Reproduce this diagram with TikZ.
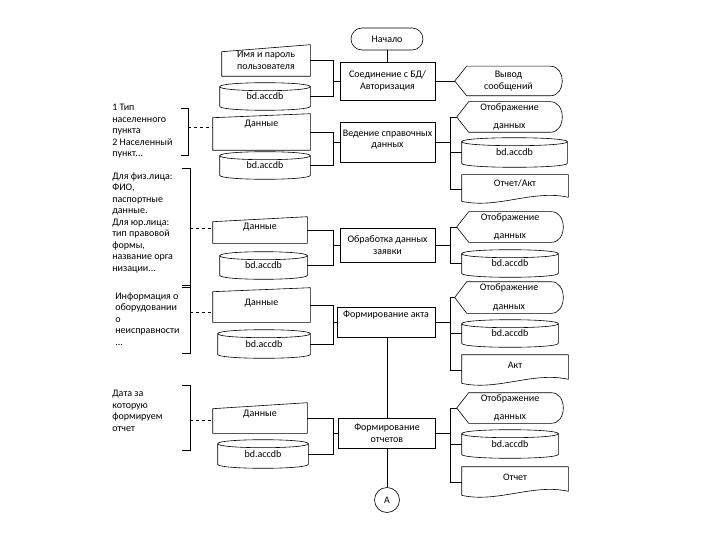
\documentclass[tikz,border=0pt]{standalone}
\usepackage{fontspec}
\setmainfont{Carlito}
\begin{document}
\begin{tikzpicture}[x=1pt,y=-1pt,line width=0.6pt,
  base/.style={inner sep=1pt,font=\fontsize{10}{11.5}\selectfont,align=center},
  term/.style={base,draw,rounded corners=11pt,minimum width=72pt,minimum height=22pt},
  proc/.style={base,draw,minimum width=95pt},
  shp/.style={base},
  note/.style={inner sep=0pt,anchor=north west,align=left,font=\fontsize{10}{11.5}\selectfont},
  conA/.style={base,draw,circle,minimum size=25pt,inner sep=0pt},
  brk/.style={line width=0.6pt},
  dconn/.style={dashed}]
\useasboundingbox (0,0) rectangle (720,540);
\fill[white] (0,0) rectangle (720,540);

% main column
\node[term] (start) at (387,39) {Начало};
\node[proc,minimum height=38pt] (p1) at (387.5,81) {Соединение с БД/\\Авторизация};
\node[proc,minimum height=40pt,text depth=6pt] (p2) at (387.5,142) {Ведение справочных\\данных};
\node[proc,minimum height=34pt] (p3) at (387.5,245) {Обработка данных\\заявки};
\node[proc,minimum width=98pt,minimum height=30pt,text depth=16pt] (p4) at (386,322) {Формирование акта};
\node[proc,minimum width=97pt,minimum height=30pt] (p5) at (387,433) {Формирование\\отчетов};
\node[conA] (A) at (387,500) {А};

% left manual inputs
\node[shp,minimum width=88pt,minimum height=31pt] (m1) at (266,60.5) {Имя и пароль\\пользователя};
\node[shp,minimum width=97pt,minimum height=36pt,text depth=18pt] (m2) at (261.5,132) {Данные};
\node[shp,minimum width=94pt,minimum height=26pt,text depth=8pt] (m3) at (260,230) {Данные};
\node[shp,minimum width=97pt,minimum height=34pt,text depth=6pt] (m4) at (261.5,305) {Данные};
\node[shp,minimum width=94pt,minimum height=30pt,text depth=10pt] (m5) at (260,418) {Данные};

% left cylinders
\node[shp,minimum width=90pt,minimum height=27pt] (c1) at (265,96.5) {bd.accdb};
\node[shp,minimum width=90pt,minimum height=27pt] (c2) at (265,165.5) {bd.accdb};
\node[shp,minimum width=87pt,minimum height=27pt] (c3) at (263.5,265.5) {bd.accdb};
\node[shp,minimum width=92pt,minimum height=28pt] (c4) at (264,344) {bd.accdb};
\node[shp,minimum width=90pt,minimum height=28pt] (c5) at (263,454) {bd.accdb};

% right displays
\node[shp,minimum width=107pt,minimum height=29pt] (d1) at (508.5,81) {Вывод\\сообщений};
\node[shp,minimum width=105pt,minimum height=30pt] (d2) at (509.5,117) {Отображение\\[7pt]данных};
\node[shp,minimum width=106pt,minimum height=30pt] (d3) at (510,227) {Отображение\\[7pt]данных};
\node[shp,minimum width=108pt,minimum height=31pt] (d4) at (509,297.5) {Отображение\\[7pt]данных};
\node[shp,minimum width=106pt,minimum height=30pt] (d5) at (510,408) {Отображение\\[7pt]данных};

% right cylinders
\node[shp,minimum width=105pt,minimum height=29pt] (r2c) at (514.5,152.5) {bd.accdb};
\node[shp,minimum width=96pt,minimum height=27pt] (r3c) at (510,263.5) {bd.accdb};
\node[shp,minimum width=96pt,minimum height=27pt] (r4c) at (510,333.5) {bd.accdb};
\node[shp,minimum width=96pt,minimum height=28pt] (r5c) at (510,444) {bd.accdb};

% right documents
\node[shp,minimum width=106pt,minimum height=28pt,text depth=12pt] (r2d) at (515,189) {Отчет/Акт};
\node[shp,minimum width=106pt,minimum height=30pt,text depth=10pt] (r4d) at (515,370) {Акт};
\node[shp,minimum width=106pt,minimum height=30pt,text depth=10pt] (r5d) at (515,482) {Отчет};

% annotations
\node[note] (a2) at (112,104) {1 Тип\\населенного\\пункта\\2 Населенный\\пункт...};
\node[note] (a3) at (112,172) {Для физ.лица:\\ФИО,\\паспортные\\данные.\\Для юр.лица:\\тип правовой\\формы,\\название орга\\низации...};
\node[note] (a4) at (115,292) {Информация о\\оборудовании\\о\\неисправности\\...};
\node[note] (a5) at (112,390) {Дата за\\которую\\формируем\\отчет};

% shapes outlines
\foreach \n/\s in {m1/7,m2/4,m3/5,m4/4,m5/6}
  \draw ([yshift=-\s pt]\n.north west) -- (\n.north east) -- (\n.south east) -- (\n.south west) -- cycle;
\foreach \n in {c1,c2,c3,c4,c5,r2c,r3c,r4c,r5c}{
  \draw ([yshift=-4pt]\n.north west) .. controls ([yshift=1.33pt]\n.north west) and ([yshift=1.33pt]\n.north east) .. ([yshift=-4pt]\n.north east)
        .. controls ([yshift=-9.33pt]\n.north east) and ([yshift=-9.33pt]\n.north west) .. cycle;
  \draw ([yshift=-4pt]\n.north west) -- ([yshift=4pt]\n.south west)
        .. controls ([yshift=-1.33pt]\n.south west) and ([yshift=-1.33pt]\n.south east) .. ([yshift=4pt]\n.south east)
        -- ([yshift=-4pt]\n.north east);
}
\foreach \n in {d1,d2,d3,d4,d5}
  \draw (\n.west) -- ([xshift=12pt]\n.north west) -- ([xshift=-12pt]\n.north east)
        .. controls ([xshift=4pt]\n.north east) and ([xshift=4pt]\n.south east) .. ([xshift=-12pt]\n.south east)
        -- ([xshift=12pt]\n.south west) -- cycle;
\foreach \n in {r2d,r4d,r5d}
  \draw ([yshift=2pt]\n.south west) -- (\n.north west) -- (\n.north east) -- ([yshift=6pt]\n.south east)
        .. controls ([xshift=-35pt,yshift=14pt]\n.south east) and ([xshift=35pt,yshift=-6pt]\n.south west) .. ([yshift=2pt]\n.south west);

% brackets
\coordinate (k2) at (188,127);
\coordinate (k3) at (190,228);
\coordinate (k4) at (190,312);
\coordinate (k5) at (190,420);
\draw[brk] (181,108) -- (188,108) -- (188,155) -- (181,155);
\draw[brk] (182,168) -- (190,168) -- (190,287) -- (182,287);
\draw[brk] (182,285) -- (190,285) -- (190,353) -- (182,353);
\draw[brk] (182,385) -- (190,385) -- (190,450) -- (182,450);
\draw[dconn] (k2) -- (k2 -| m2.west);
\draw[dconn] (k3) -- (k3 -| m3.west);
\draw[dconn] (k4) -- (k4 -| m4.west);
\draw[dconn] (k5) -- (k5 -| m5.west);

% main vertical connectors
\draw (start.south) -- (start.south |- p1.north);
\draw (p4.south -| A) -- (p5.north -| A);
\draw (p5.south -| A) -- (A.north);

% left buses
\coordinate (lb) at (333,0);
\draw (m1.east) -- (m1.east -| lb) |- (c1.east);
\draw (p1.west) -- (p1.west -| lb);
\draw (m2.east) -- (m2.east -| lb) |- (c2.east);
\draw (p2.west) -- (p2.west -| lb);
\draw (m3.east) -- (m3.east -| lb) |- (c3.east);
\draw (p3.west) -- (p3.west -| lb);
\draw (m4.east) -- (m4.east -| lb) |- (c4.east);
\draw (p4.west) -- (p4.west -| lb);
\draw (m5.east) -- (m5.east -| lb) |- (c5.east);
\draw (p5.west) -- (p5.west -| lb);

% right buses
\coordinate (rb) at (450,0);
\draw (p1.east) -- (d1.west);
\draw (d2.west) -- (d2.west -| rb) |- (r2d.west);
\draw (r2c.west) -- (r2c.west -| rb);
\draw (p2.east) -- (p2.east -| rb);
\draw (d3.west) -- (d3.west -| rb) |- (r3c.west);
\draw (p3.east) -- (p3.east -| rb);
\draw (d4.west) -- (d4.west -| rb) |- (r4d.west);
\draw (r4c.west) -- (r4c.west -| rb);
\draw (p4.east) -- (p4.east -| rb);
\draw (d5.west) -- (d5.west -| rb) |- (r5d.west);
\draw (r5c.west) -- (r5c.west -| rb);
\draw (p5.east) -- (p5.east -| rb);
\end{tikzpicture}
\end{document}
